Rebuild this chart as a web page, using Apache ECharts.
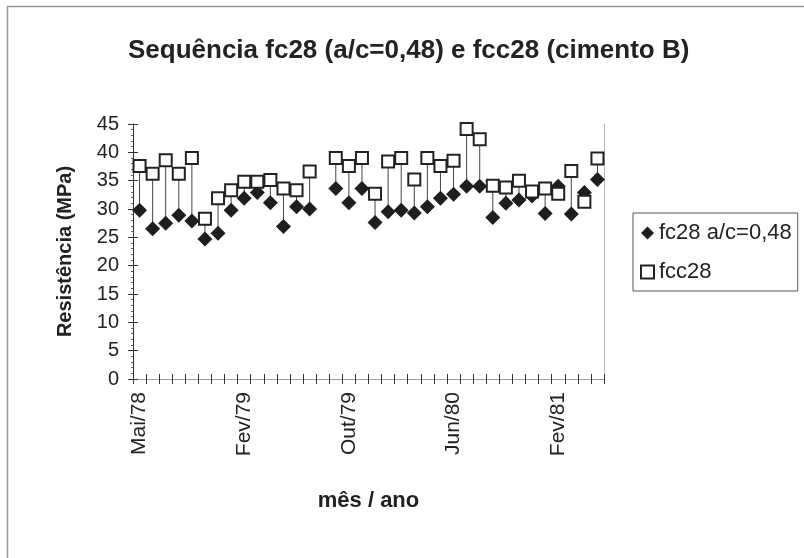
<!DOCTYPE html>
<html>
<head>
<meta charset="utf-8">
<script src="https://cdn.jsdelivr.net/npm/echarts@6/dist/echarts.min.js"></script>
<style>
html,body{margin:0;padding:0;background:#fff;}
#c{width:804px;height:558px;}
</style>
</head>
<body>
<div id="c"></div>
<script>
var categories = ['Mai/78','Jun/78','Jul/78','Ago/78','Set/78','Out/78','Nov/78','Dez/78',
  'Fev/79','Mar/79','Abr/79','Mai/79','Jun/79','Jul/79','Ago/79','Set/79',
  'Out/79','Nov/79','Dez/79','Jan/80','Fev/80','Mar/80','Abr/80','Mai/80',
  'Jun/80','Jul/80','Ago/80','Set/80','Out/80','Nov/80','Dez/80','Jan/81',
  'Fev/81','Mar/81','Abr/81','Mai/81'];
var fc28 = [29.8,26.5,27.5,28.9,27.9,24.7,25.7,29.8,
  31.9,32.9,31.1,26.9,30.4,30.0,null,33.6,
  31.1,33.6,27.6,29.5,29.8,29.3,30.4,31.9,
  32.6,34.0,34.0,28.5,31.0,31.6,32.3,29.2,
  34.0,29.1,32.9,35.2];
var fcc28 = [37.6,36.2,38.6,36.2,39.0,28.3,31.9,33.3,
  34.8,34.8,35.1,33.6,33.3,36.6,null,39.0,
  37.6,39.0,32.7,38.4,39.0,35.2,39.0,37.6,
  38.5,44.1,42.3,34.1,33.8,35.0,33.1,33.6,
  32.7,36.7,31.3,38.9];
var yTicks = {min:0, max:45, interval:5};

var FONT = "'Liberation Sans', Arial, sans-serif";
var hiLo = [];
for (var i = 0; i < categories.length; i++) {
  if (fc28[i] != null && fcc28[i] != null) hiLo.push([i, fc28[i], fcc28[i]]);
}

var chart = echarts.init(document.getElementById('c'), null, {renderer:'canvas'});
chart.setOption({
  animation:false,
  backgroundColor:'#fff',
  textStyle:{fontFamily:FONT},
  title:{
    text:'Sequência fc28 (a/c=0,48) e fcc28 (cimento B)',
    left:123, top:33,
    textStyle:{fontFamily:FONT, fontSize:26, fontWeight:'bold', color:'#222'}
  },
  graphic:[{
    type:'rect', silent:true, z:-1,
    shape:{x:7.5, y:6.5, width:900, height:700},
    style:{fill:null, stroke:'#999', lineWidth:1.5}
  }],
  legend:{
    orient:'vertical', left:633, top:213,
    backgroundColor:'#fff', borderColor:'#555', borderWidth:1,
    padding:[9,6,8,7], itemGap:17, itemWidth:13, itemHeight:13,
    textStyle:{fontFamily:FONT, fontSize:22, color:'#222'},
    data:['fc28 a/c=0,48','fcc28']
  },
  grid:{left:133, top:124, right:200, bottom:179, containLabel:false},
  xAxis:[{
    type:'category', data:categories, position:'bottom', boundaryGap:true,
    axisLine:{lineStyle:{color:'#333', width:1}},
    axisTick:{show:true, interval:0, length:5, lineStyle:{color:'#333'}},
    axisLabel:{interval:7, rotate:90, fontSize:21, color:'#222', fontFamily:FONT, margin:13},
    splitLine:{show:false},
    name:'mês / ano', nameLocation:'middle', nameGap:111,
    nameTextStyle:{fontFamily:FONT, fontSize:22, fontWeight:'bold', color:'#222'}
  },{
    type:'category', data:categories, position:'bottom', boundaryGap:true,
    axisLine:{show:false},
    axisTick:{show:true, inside:true, interval:0, length:5, lineStyle:{color:'#333'}},
    axisLabel:{show:false}, splitLine:{show:false}
  },{
    type:'category', data:categories, position:'top', boundaryGap:true,
    axisLine:{show:true, lineStyle:{color:'#999'}},
    axisTick:{show:false}, axisLabel:{show:false}, splitLine:{show:false}
  }],
  yAxis:[{
    type:'value', min:yTicks.min, max:yTicks.max, interval:yTicks.interval, position:'left',
    axisLine:{show:true, lineStyle:{color:'#333'}},
    axisTick:{show:true, length:5, lineStyle:{color:'#333'}},
    minorTick:{show:true, splitNumber:5, length:2, lineStyle:{color:'#666'}},
    axisLabel:{fontSize:20, color:'#222', fontFamily:FONT, margin:14},
    splitLine:{show:false},
    name:'Resistência (MPa)', nameLocation:'middle', nameGap:58, nameRotate:90,
    nameTextStyle:{fontFamily:FONT, fontSize:20, fontWeight:'bold', color:'#222'}
  },{
    type:'value', min:yTicks.min, max:yTicks.max, interval:yTicks.interval, position:'left',
    axisLine:{show:false},
    axisTick:{show:true, inside:true, length:5, lineStyle:{color:'#333'}},
    axisLabel:{show:false}, splitLine:{show:false}
  },{
    type:'value', min:yTicks.min, max:yTicks.max, interval:yTicks.interval, position:'right',
    axisLine:{show:true, lineStyle:{color:'#aaa', type:'dotted'}},
    axisTick:{show:false}, axisLabel:{show:false}, splitLine:{show:false}
  }],
  series:[{
    type:'custom', name:'hilo', xAxisIndex:0, yAxisIndex:0, z:1,
    data:hiLo,
    encode:{x:0, y:[1,2]},
    renderItem:function(params, api){
      var p1 = api.coord([api.value(0), api.value(1)]);
      var p2 = api.coord([api.value(0), api.value(2)]);
      return {type:'line', shape:{x1:p1[0], y1:p1[1], x2:p2[0], y2:p2[1]},
        style:{stroke:'#444', lineWidth:1}};
    },
    silent:true
  },{
    type:'scatter', name:'fc28 a/c=0,48', data:fc28, xAxisIndex:0, yAxisIndex:0, z:2,
    symbol:'diamond', symbolSize:[15,15],
    itemStyle:{color:'#1e1e1e', opacity:1}
  },{
    type:'scatter', name:'fcc28', data:fcc28, xAxisIndex:0, yAxisIndex:0, z:3,
    symbol:'rect', symbolSize:[12,12],
    itemStyle:{color:'#fff', borderColor:'#222', borderWidth:2, opacity:1}
  }]
});
</script>
</body>
</html>
